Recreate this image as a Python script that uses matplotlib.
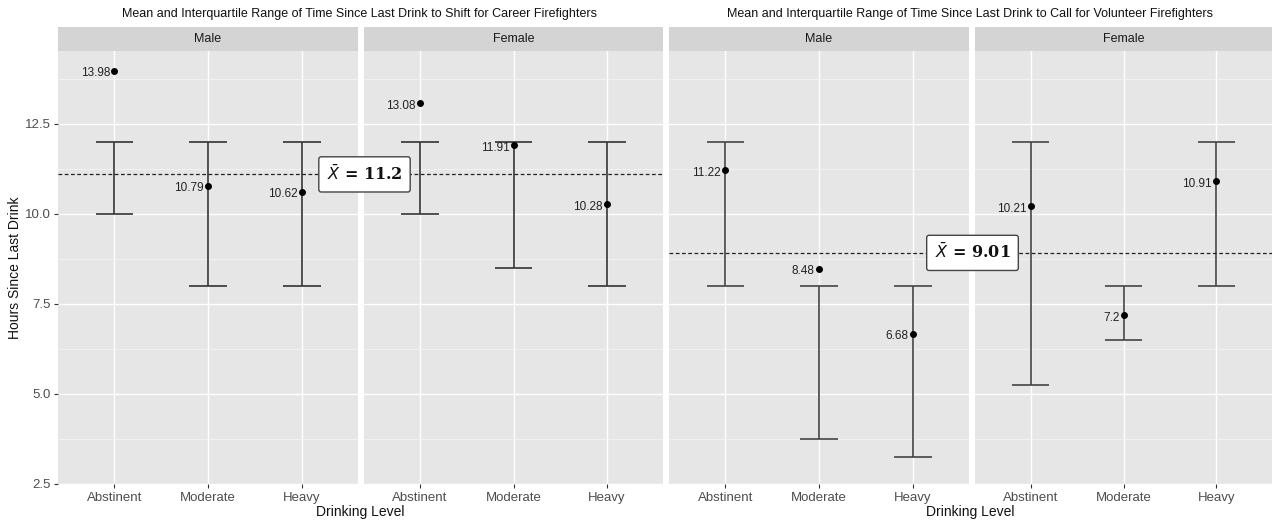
import matplotlib
matplotlib.use("Agg")
import matplotlib.pyplot as plt

plt.rcParams['font.family'] = ['Liberation Sans', 'DejaVu Sans']

# data
categories = ["Abstinent", "Moderate", "Heavy"]

career_male_mean = [13.98, 10.79, 10.62]
career_male_lo = [10.0, 8.0, 8.0]
career_male_hi = [12.0, 12.0, 12.0]

career_female_mean = [13.08, 11.91, 10.28]
career_female_lo = [10.0, 8.5, 8.0]
career_female_hi = [12.0, 12.0, 12.0]

vol_male_mean = [11.22, 8.48, 6.68]
vol_male_lo = [8.0, 3.75, 3.25]
vol_male_hi = [12.0, 8.0, 8.0]

vol_female_mean = [10.21, 7.2, 10.91]
vol_female_lo = [5.25, 6.5, 8.0]
vol_female_hi = [12.0, 8.0, 12.0]

career_line = 11.1
career_label = "11.2"
vol_line = 8.92
vol_label = "9.01"

W, H = 1276, 521
fig = plt.figure(figsize=(W / 100, H / 100), dpi=100)
fig.patch.set_facecolor("white")

PANEL_TOP, PANEL_BOT = 51, 484
STRIP_TOP = 27
YLIM = (2.5, 2.5 + (PANEL_BOT - PANEL_TOP) / 36.0)


def px_axes(x0, x1, y0, y1):
    return fig.add_axes([x0 / W, (H - y1) / H, (x1 - x0) / W, (y1 - y0) / H])


def panel(x0, x1, strip, means, lo, hi, show_y, bar_col):
    ax = px_axes(x0, x1, PANEL_TOP, PANEL_BOT)
    ax.set_facecolor("#E6E6E6")
    for s in ax.spines.values():
        s.set_visible(False)
    xs = list(range(len(categories)))
    ax.set_xlim(-0.6, len(categories) - 0.4)
    ax.set_ylim(*YLIM)
    ax.set_yticks([2.5, 5.0, 7.5, 10.0, 12.5])
    ax.set_yticks([3.75, 6.25, 8.75, 11.25, 13.75], minor=True)
    ax.set_xticks(xs)
    ax.set_xticklabels(categories, fontsize=9.5, color="#4D4D4D")
    ax.grid(True, which="major", color="white", linewidth=1.0)
    ax.grid(True, which="minor", axis="y", color="#F4F4F4", linewidth=0.6)
    ax.set_axisbelow(True)
    ax.tick_params(axis="x", length=3, color="#333333", pad=3)
    ax.tick_params(axis="y", which="minor", length=0)
    if show_y:
        ax.set_yticklabels(["2.5", "5.0", "7.5", "10.0", "12.5"], fontsize=9.5, color="#4D4D4D")
        ax.tick_params(axis="y", length=3, color="#333333", pad=2)
    else:
        ax.tick_params(axis="y", length=0, labelleft=False)

    ax.vlines(xs, lo, hi, color=bar_col, linewidth=1.2)
    ax.hlines(lo, [x - 0.2 for x in xs], [x + 0.2 for x in xs], color=bar_col, linewidth=1.2)
    ax.hlines(hi, [x - 0.2 for x in xs], [x + 0.2 for x in xs], color=bar_col, linewidth=1.2)
    ax.scatter(xs, means, s=16, color="black", zorder=5)
    for x, m in zip(xs, means):
        ax.annotate(f"{m:g}", (x, m), xytext=(-3, -2), textcoords="offset points",
                    ha="right", va="center", fontsize=8.5, color="#222222")

    st = px_axes(x0, x1, STRIP_TOP, PANEL_TOP)
    st.set_facecolor("#D4D4D4")
    st.set_xticks([])
    st.set_yticks([])
    for s in st.spines.values():
        s.set_visible(False)
    st.text(0.5, 0.5, strip, ha="center", va="center", fontsize=9, color="#1A1A1A",
            transform=st.transAxes)
    return ax


bar_col = "#333333"
a1 = panel(58, 358, "Male", career_male_mean, career_male_lo, career_male_hi, True, bar_col)
a2 = panel(364, 663, "Female", career_female_mean, career_female_lo, career_female_hi, False, bar_col)
a3 = panel(669, 969, "Male", vol_male_mean, vol_male_lo, vol_male_hi, False, "#444444")
a4 = panel(975, 1272, "Female", vol_female_mean, vol_female_lo, vol_female_hi, False, "#444444")

# dashed mean lines across each chart
for ax in (a1, a2):
    ax.axhline(career_line, color="#222222", linestyle=(0, (3, 2)), linewidth=0.9, zorder=3)
for ax in (a3, a4):
    ax.axhline(vol_line, color="#222222", linestyle=(0, (3, 2)), linewidth=0.9, zorder=3)


def mean_box(xc, yval, label):
    ypx = PANEL_BOT - (yval - YLIM[0]) * 36.0
    fig.text(xc / W, (H - ypx) / H, r"$\bar{X}$ = " + label, ha="center", va="center",
             fontsize=11.5, family="DejaVu Serif", fontweight="bold", color="#111111",
             bbox=dict(boxstyle="round,pad=0.5,rounding_size=0.15", fc="white",
                       ec="#444444", lw=1.0), zorder=10)


mean_box(364.5, career_line, career_label)
mean_box(972.5, vol_line, vol_label)

# titles and axis labels
fig.text(360 / W, (H - 14) / H,
         "Mean and Interquartile Range of Time Since Last Drink to Shift for Career Firefighters",
         ha="center", va="center", fontsize=9, color="#111111")
fig.text(970 / W, (H - 14) / H,
         "Mean and Interquartile Range of Time Since Last Drink to Call for Volunteer Firefighters",
         ha="center", va="center", fontsize=9, color="#111111")
fig.text(360 / W, (H - 512) / H, "Drinking Level", ha="center", va="center",
         fontsize=10, color="#111111")
fig.text(970 / W, (H - 512) / H, "Drinking Level", ha="center", va="center",
         fontsize=10, color="#111111")
fig.text(15 / W, (H - 268) / H, "Hours Since Last Drink", ha="center", va="center",
         rotation=90, fontsize=10, color="#111111")

fig.savefig("out.png", dpi=100)
